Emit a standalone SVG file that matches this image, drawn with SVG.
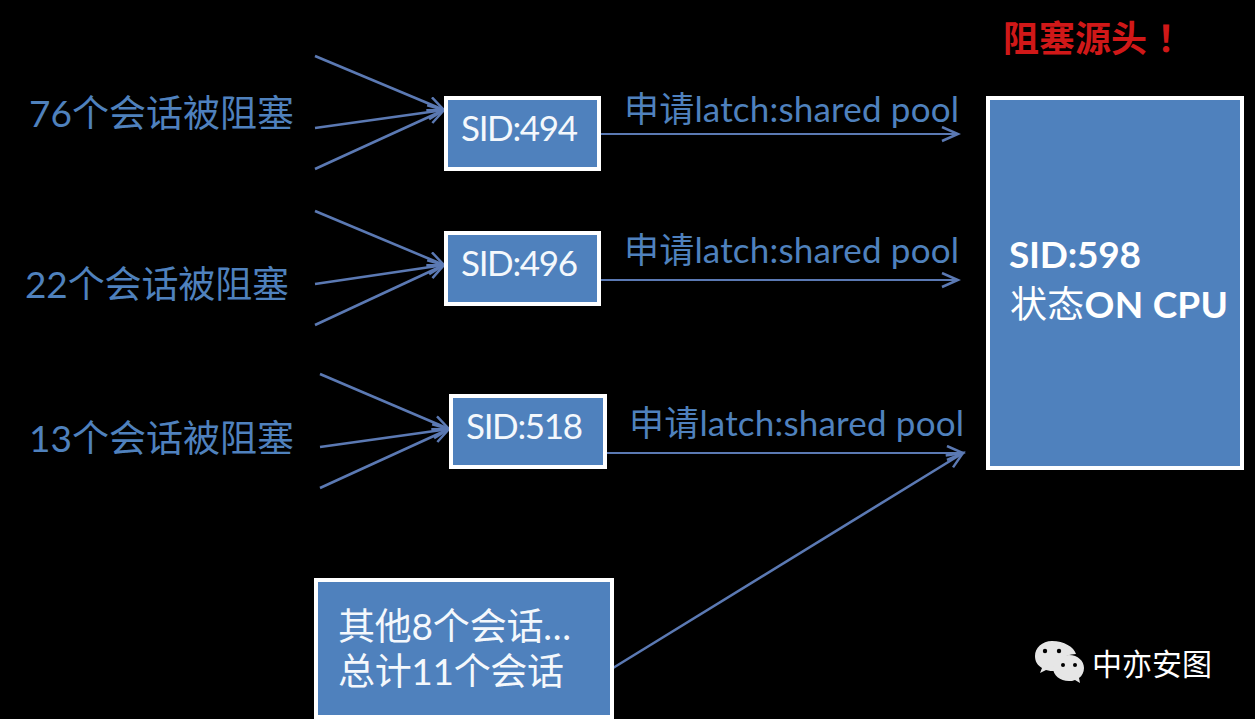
<svg xmlns="http://www.w3.org/2000/svg" width="1255" height="719" viewBox="0 0 1255 719">
<style>
.n{fill:#4f81bd;stroke:#fff;stroke-width:4}
.c{stroke:#5b79b3;stroke-width:2.6;fill:none;marker-end:url(#a)}
.d{stroke:#5b79b3;stroke-width:2;fill:none;marker-end:url(#a)}
text{font-family:Lato,"Noto Sans CJK SC",sans-serif}
.t{fill:#4f81bd;font-size:37px}
.w{fill:#f4f8fc;font-size:35px}
.o{fill:#f4f8fc;font-size:37px}
.b{fill:#fff;font-size:37px;font-weight:bold}
.p{fill:#4f81bd;font-size:35px}
.r{fill:#d01818;font-size:36px;font-weight:bold}
.e{fill:#000}
.g{fill:#e6e6e6}
</style>
<defs><marker id="a" markerWidth="20" markerHeight="20" refX="17" refY="8" orient="auto" markerUnits="userSpaceOnUse"><path d="M1 1L17 8L1 15" fill="none" stroke="#5b79b3" stroke-width="2.5"/></marker></defs>
<rect width="1255" height="719" fill="#000"/>
<g id="connectors">
<path class="c" d="M315 56L444 110"/><path class="c" d="M315 128L444 110"/><path class="c" d="M315 169L444 110"/>
<path class="c" d="M315 211L444 265"/><path class="c" d="M315 284L444 265"/><path class="c" d="M315 325L444 265"/>
<path class="c" d="M320 374L449 429"/><path class="c" d="M320 447L449 429"/><path class="c" d="M320 488L449 429"/>
<path class="d" d="M600 134L958 134"/><path class="d" d="M600 280L958 280"/><path class="d" d="M606 453L963 453"/><path class="c" d="M613 668L963 453"/>
</g>
<g id="n494"><rect class="n" x="446" y="98" width="153" height="71"/><text class="w" x="461" y="141" textLength="117">SID:494</text></g>
<g id="n496"><rect class="n" x="446" y="233" width="153" height="71"/><text class="w" x="461" y="276" textLength="117">SID:496</text></g>
<g id="n518"><rect class="n" x="451" y="396" width="154" height="71"/><text class="w" x="466" y="439" textLength="117">SID:518</text></g>
<g id="n598"><rect class="n" x="988" y="98" width="254" height="370"/><text class="b" x="1009" y="268" textLength="132">SID:598</text><text class="b" x="1010" y="318" textLength="218"><tspan font-weight="normal">状态</tspan>ON CPU</text></g>
<g id="other"><rect class="n" x="316" y="580" width="296" height="137"/><text class="o" x="338" y="640" textLength="233">其他8个会话…</text><text class="o" x="338" y="685" textLength="226">总计11个会话</text></g>
<g id="labels">
<text class="t" x="29" y="127" textLength="265">76个会话被阻塞</text><text class="t" x="25" y="298" textLength="264">22个会话被阻塞</text><text class="t" x="29" y="452" textLength="265">13个会话被阻塞</text>
<text class="p" x="624" y="122" textLength="335">申请latch:shared pool</text><text class="p" x="624" y="263" textLength="335">申请latch:shared pool</text><text class="p" x="629" y="436" textLength="335">申请latch:shared pool</text>
<text class="r" x="1003" y="52" textLength="144">阻塞源头</text><text class="r" x="1157" y="52">！</text>
</g>
<g id="wm">
<path class="g" d="M1052 641c-10 0-17 7-17 15 0 5 2 9 7 12l-2 5 6-3c3 1 6 1 9 1 0-8 8-17 21-17-2-7-12-13-24-13z"/>
<path class="g" d="M1069 655c-9 0-16 6-16 13s7 13 16 13c2 0 4 0 6-1l5 3-1-5c3-2 5-6 5-10 0-7-6-13-15-13z"/>
<circle class="e" cx="1045" cy="651" r="2.2"/><circle class="e" cx="1059" cy="651" r="2.2"/><circle class="e" cx="1063" cy="665" r="2"/><circle class="e" cx="1075" cy="665" r="2"/>
<text x="1092" y="675" fill="#fff" font-size="30">中亦安图</text></g>
</svg>
